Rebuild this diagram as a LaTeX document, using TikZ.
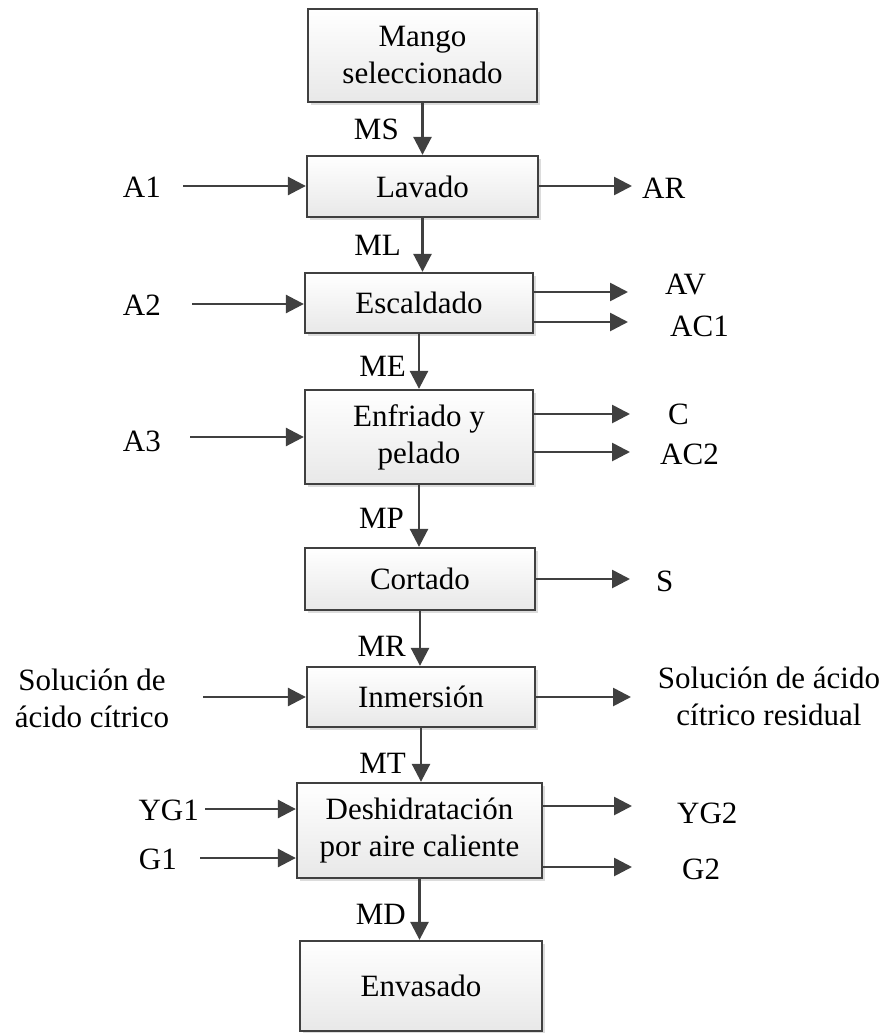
\documentclass[tikz,border=0pt]{standalone}
\usepackage{fontspec}
\setmainfont{Liberation Serif}
\usetikzlibrary{arrows.meta,shadows,calc}
\definecolor{linegray}{HTML}{404040}

\begin{document}
\begin{tikzpicture}[x=1pt,y=-1pt,
  every node/.style={font=\fontsize{31}{37}\selectfont, inner sep=0pt, text=black},
  proc/.style={draw=linegray, line width=2.3pt, top color=white, bottom color=black!9,
    align=center,
    drop shadow={shadow xshift=3pt,shadow yshift=-3pt,fill=black!30,opacity=0.45}},
  flow/.style={draw=linegray, line width=2.7pt, -{Triangle[length=18pt,width=18pt]}},
  lab/.style={align=center}]

% page frame
\useasboundingbox (0,0) rectangle (892,1033);

% process steps
\node[proc, minimum width=229pt, minimum height=93pt] (mango) at (422.5,55.5) {Mango\\seleccionado};
\node[proc, minimum width=231pt, minimum height=61pt] (lavado) at (422.5,186.5) {Lavado};
\node[proc, minimum width=228pt, minimum height=60pt] (escal) at (419,303) {Escaldado};
\node[proc, minimum width=228pt, minimum height=94pt] (enfri) at (419,437) {Enfriado y\\pelado};
\node[proc, minimum width=230pt, minimum height=62pt] (corta) at (420,579) {Cortado};
\node[proc, minimum width=228pt, minimum height=60pt] (inmer) at (421,697) {Inmersión};
\node[proc, minimum width=245pt, minimum height=95pt] (deshi) at (419.5,830.5) {Deshidratación\\por aire caliente};
\node[proc, minimum width=242pt, minimum height=90pt] (envas) at (421,986) {Envasado};

% main line
\draw[flow] (mango.south) -- (mango.south |- lavado.north);
\draw[flow] (lavado.south) -- (lavado.south |- escal.north);
\draw[flow] (escal.south) -- (escal.south |- enfri.north);
\draw[flow] (enfri.south) -- (enfri.south |- corta.north);
\draw[flow] (corta.south) -- (corta.south |- inmer.north);
\draw[flow] (inmer.south) -- (inmer.south |- deshi.north);
\draw[flow] (deshi.south) -- (deshi.south |- envas.north);

% stream names on the main line
\node[anchor=base east] (ms) at (399,139) {MS};
\node[anchor=base east] (ml) at (401,255) {ML};
\node[anchor=base east] (me) at (406,376) {ME};
\node[anchor=base east] (mp) at (404,528) {MP};
\node[anchor=base east] (mr) at (406,656) {MR};
\node[anchor=base east] (mt) at (406,773) {MT};
\node[anchor=base east] (md) at (406,924) {MD};

% inputs
\node[anchor=base east] (a1) at (161,197) {A1};
\coordinate (a1s) at (183,186);
\draw[flow] (a1s) -- (a1s -| lavado.west);

\node[anchor=base east] (a2) at (161,315) {A2};
\coordinate (a2s) at (192,304);
\draw[flow] (a2s) -- (a2s -| escal.west);

\node[anchor=base east] (a3) at (161,451) {A3};
\coordinate (a3s) at (190,437);
\draw[flow] (a3s) -- (a3s -| enfri.west);

\node[lab] (solin) at (92,698) {Solución de\\ácido cítrico};
\coordinate (sols) at (203,697);
\draw[flow] (sols) -- (sols -| inmer.west);

\node[anchor=base east] (yg1) at (199,820) {YG1};
\coordinate (yg1s) at (205,809);
\draw[flow] (yg1s) -- (yg1s -| deshi.west);

\node[anchor=base east] (g1) at (177,869) {G1};
\coordinate (g1s) at (200,858);
\draw[flow] (g1s) -- (g1s -| deshi.west);

% outputs
\coordinate (are) at (632,186);
\draw[flow] (are -| lavado.east) -- (are);
\node[anchor=base west] (ar) at (642,198) {AR};

\coordinate (ave) at (628,292);
\draw[flow] (ave -| escal.east) -- (ave);
\node[anchor=base west] (av) at (665,294) {AV};

\coordinate (ac1e) at (628,322);
\draw[flow] (ac1e -| escal.east) -- (ac1e);
\node[anchor=base west] (ac1) at (670,336) {AC1};

\coordinate (ce) at (630,414);
\draw[flow] (ce -| enfri.east) -- (ce);
\node[anchor=base west] (c) at (668,424) {C};

\coordinate (ac2e) at (630,452);
\draw[flow] (ac2e -| enfri.east) -- (ac2e);
\node[anchor=base west] (ac2) at (660,464) {AC2};

\coordinate (se) at (630,579);
\draw[flow] (se -| corta.east) -- (se);
\node[anchor=base west] (s) at (656,591) {S};

\coordinate (sole) at (631,697);
\draw[flow] (sole -| inmer.east) -- (sole);
\node[lab] (solout) at (769,696) {Solución de ácido\\cítrico residual};

\coordinate (yg2e) at (632,806);
\draw[flow] (yg2e -| deshi.east) -- (yg2e);
\node[anchor=base west] (yg2) at (677,823) {YG2};

\coordinate (g2e) at (632,867);
\draw[flow] (g2e -| deshi.east) -- (g2e);
\node[anchor=base west] (g2) at (682,879) {G2};
\end{tikzpicture}
\end{document}
